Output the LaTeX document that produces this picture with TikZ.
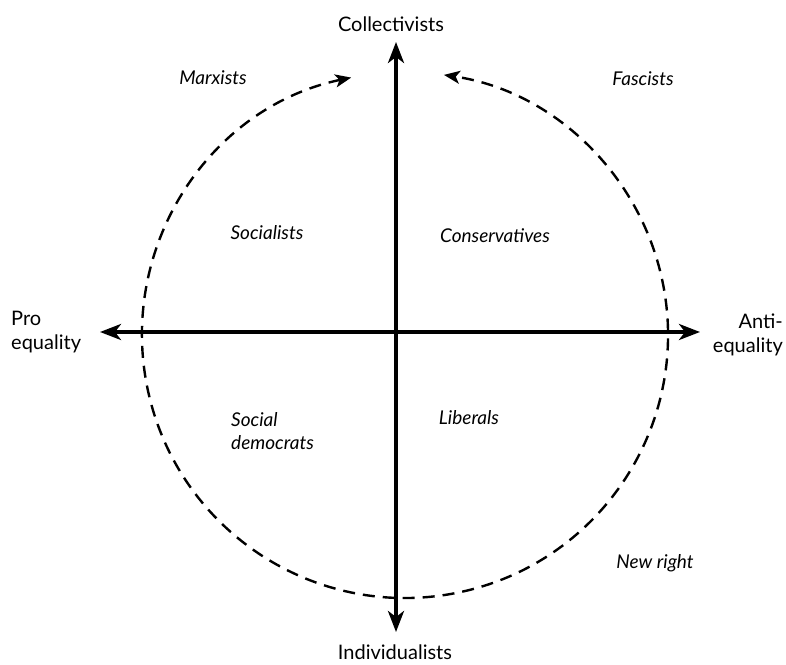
\documentclass[tikz,border=0pt]{standalone}
\usepackage{fontspec}
\setmainfont{Lato}
\usetikzlibrary{arrows.meta}
\begin{document}
\begin{tikzpicture}[x=1pt,y=1pt,
  axis/.style={line width=3.6pt,-{Stealth[length=21pt,width=16pt,inset=6pt]}},
  loop/.style={line width=2.4pt,dash pattern=on 12pt off 8pt,{Stealth[length=16pt,width=13pt,inset=4pt]}-{Stealth[length=16pt,width=13pt,inset=4pt]}},
  pole/.style={font=\fontsize{20}{24}\selectfont,inner sep=0pt},
  group/.style={font=\fontsize{19}{23}\selectfont\itshape,inner sep=0pt}]
\useasboundingbox[fill=white] (0,0) rectangle (786,664);
% axis end points
\coordinate (top) at (396,622);
\coordinate (bot) at (396,32);
\coordinate (lft) at (100,332);
\coordinate (rgt) at (700,332);
\coordinate (ctr) at (396,332);
\draw[axis] (ctr) -- (top);
\draw[axis] (ctr) -- (bot);
\draw[axis] (ctr) -- (lft);
\draw[axis] (ctr) -- (rgt);
% dashed circle
\coordinate (cc) at (405,329);
\draw[loop] ([shift={(101.8:263)}]cc) arc[start angle=101.8,end angle=441.5,radius=263];
% poles
\node[pole] (coll) at (391,640) {Collectivists};
\node[pole] (indiv) at (395,12) {Individualists};
\node[pole,align=left,anchor=west] (pro) at (11,332) {Pro\\equality};
\node[pole,align=right,anchor=east] (anti) at (783,329) {Anti-\\equality};
% groups
\node[group] (marx) at (213,586) {Marxists};
\node[group] (fasc) at (643,585) {Fascists};
\node[group] (soc) at (267,431) {Socialists};
\node[group] (cons) at (495,428) {Conservatives};
\node[group,align=left,anchor=west] (socdem) at (231,233) {Social\\democrats};
\node[group] (lib) at (469,246) {Liberals};
\node[group] (newr) at (655,101) {New right};
\end{tikzpicture}
\end{document}
